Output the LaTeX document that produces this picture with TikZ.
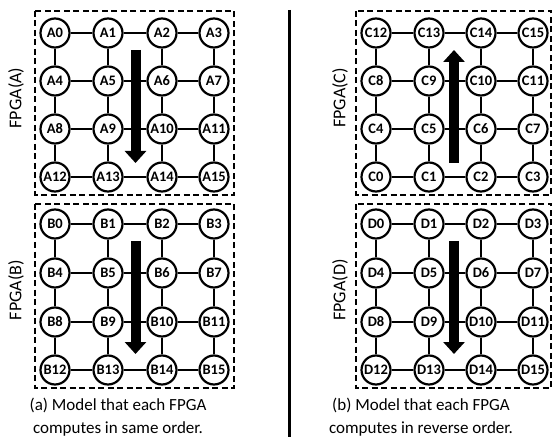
\documentclass[tikz,border=0pt]{standalone}
\usepackage{fontspec}
\setmainfont{Carlito}
\usetikzlibrary{arrows.meta}
\begin{document}
\begin{tikzpicture}[x=1pt,y=-1pt,
  pe/.style={circle,draw,line width=2.2pt,minimum size=29pt,inner sep=0pt,fill=white,font=\fontsize{14.5}{15}\selectfont\bfseries},
  link/.style={line width=2.2pt},
  fpgabox/.style={line width=2.3pt,dash pattern=on 6pt off 3.5pt},
  flow/.style={line width=10pt,-{Triangle[width=21pt,length=12pt]}},
  fpgalabel/.style={rotate=90,font=\fontsize{18}{20}\selectfont},
  caption/.style={align=center,font=\fontsize{17}{23}\selectfont}]
\useasboundingbox (0,0) rectangle (553,443);
% boxes
\draw[fpgabox] (35,11) rectangle (234,195);
\draw[fpgabox] (35,204) rectangle (234,388);
\draw[fpgabox] (356,11) rectangle (551,195);
\draw[fpgabox] (356,204) rectangle (551,388);
% grids
\def\rowsTop{{33,81,129,177}}
\def\rowsBot{{224,273,322,370}}
\def\colsL{{55,108,162,214}}
\def\colsR{{376,429,481,533}}
\foreach \r in {0,...,3}{
  \foreach \c in {0,...,3}{
    \pgfmathsetmacro{\xl}{\colsL[\c]}
    \pgfmathsetmacro{\xr}{\colsR[\c]}
    \pgfmathsetmacro{\yt}{\rowsTop[\r]}
    \pgfmathsetmacro{\yb}{\rowsBot[\r]}
    \pgfmathtruncatemacro{\ia}{4*\r+\c}
    \pgfmathtruncatemacro{\ic}{4*(3-\r)+\c}
    \node[pe] (A\ia) at (\xl,\yt) {A\ia};
    \node[pe] (B\ia) at (\xl,\yb) {B\ia};
    \node[pe] (C\ic) at (\xr,\yt) {C\ic};
    \node[pe] (D\ia) at (\xr,\yb) {D\ia};
  }
}
% links
\foreach \g in {A,B,C,D}{
  \foreach \r in {0,...,3}{
    \foreach \c in {0,1,2}{
      \pgfmathtruncatemacro{\p}{4*\r+\c}
      \pgfmathtruncatemacro{\q}{4*\r+\c+1}
      \draw[link] (\g\p) -- (\g\q);
    }
  }
  \foreach \r in {0,1,2}{
    \foreach \c in {0,...,3}{
      \pgfmathtruncatemacro{\p}{4*\r+\c}
      \pgfmathtruncatemacro{\q}{4*\r+\c+4}
      \draw[link] (\g\p) -- (\g\q);
    }
  }
}
% flow arrows
\draw[flow] (135.5,50) -- (135.5,163);
\draw[flow] (135.5,241) -- (135.5,354);
\draw[flow] (454,163) -- (454,50);
\draw[flow] (454,241) -- (454,354);
% labels
\node[fpgalabel] (LA) at (16,98) {FPGA(A)};
\node[fpgalabel] (LB) at (16,290) {FPGA(B)};
\node[fpgalabel] (LC) at (340,98) {FPGA(C)};
\node[fpgalabel] (LD) at (340,290) {FPGA(D)};
% divider
\draw[line width=3pt] (289,10) -- (289,437);
% captions
\node[caption] (capa) at (118,417) {(a) Model that each FPGA\\computes in same order.};
\node[caption] (capb) at (421,417) {(b) Model that each FPGA\\computes in reverse order.};
\end{tikzpicture}
\end{document}
